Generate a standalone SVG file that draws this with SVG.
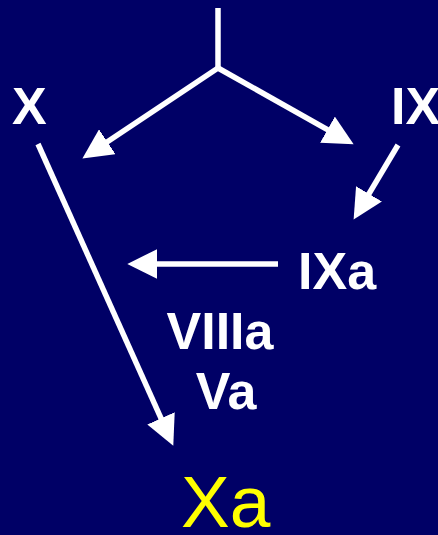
<svg xmlns="http://www.w3.org/2000/svg" width="438" height="535" viewBox="0 0 438 535">
  <style>
    .lbl { font-family: "Liberation Sans", Arial, sans-serif; font-weight: bold; font-size: 52px; fill: #ffffff; }
    .prod { font-family: "Liberation Sans", Arial, sans-serif; font-size: 73px; fill: #ffff00; }
    .wire { stroke: #ffffff; stroke-width: 5.5; fill: none; }
  </style>
  <defs>
    <marker id="head" markerUnits="userSpaceOnUse" markerWidth="30" markerHeight="30" viewBox="0 0 28 28" refX="18" refY="14" orient="auto">
      <path d="M0,0 L28,14 L0,28 z" fill="#ffffff"/>
    </marker>
  </defs>
  <rect width="438" height="535" fill="#000066"/>

  <g id="connectors">
    <line class="wire" x1="218" y1="8" x2="218" y2="69"/>
    <line class="wire" x1="218" y1="68" x2="91.3" y2="152.5" marker-end="url(#head)"/>
    <line class="wire" x1="218" y1="68" x2="344.3" y2="139.1" marker-end="url(#head)"/>
    <line class="wire" x1="398" y1="145" x2="359.1" y2="210.4" marker-end="url(#head)"/>
    <line class="wire" x1="278" y1="264" x2="138" y2="264" marker-end="url(#head)"/>
    <line class="wire" x1="38" y1="144" x2="168.9" y2="435.9" marker-end="url(#head)"/>
  </g>

  <g id="node-X"><text class="lbl" x="12" y="124">X</text></g>
  <g id="node-IX"><text class="lbl" x="391" y="124">IX</text></g>
  <g id="node-IXa"><text class="lbl" x="298" y="289">IXa</text></g>
  <g id="node-cofactors">
    <text class="lbl" x="220" y="349" text-anchor="middle">VIIIa</text>
    <text class="lbl" x="226" y="409" text-anchor="middle">Va</text>
  </g>
  <g id="node-Xa"><text class="prod" x="181" y="527">Xa</text></g>
</svg>
